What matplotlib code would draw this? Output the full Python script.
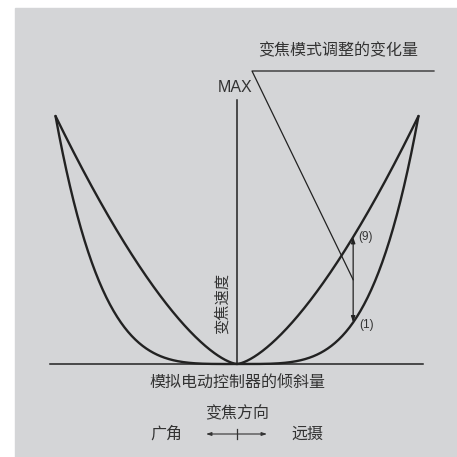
import matplotlib
matplotlib.use("Agg")
import matplotlib.pyplot as plt
import numpy as np
from matplotlib.patches import Rectangle

plt.rcParams['font.family'] = ['Noto Sans CJK SC', 'DejaVu Sans']

# schematic curves: speed = |tilt| ** exponent, tilt in [-1, 1]
curve_labels = ["(9)", "(1)"]
curve_exponents = [1.5, 4.0]
arrow_tilt = 0.64          # where the (1)->(9) arrow sits
axis_label_x = "模拟电动控制器的倾斜量"
axis_label_y = "变焦速度"
max_label = "MAX"
note_label = "变焦模式调整的变化量"
dir_title = "变焦方向"
dir_left = "广角"
dir_right = "远摄"

ink = "#222222"
txt = "#333333"
bg = "#d4d5d7"
latin = ["Liberation Sans", "DejaVu Sans"]

# pixel layout helpers (origin at centre of the baseline)
cx, cy, sx, sy = 237.0, 364.0, 181.5, 248.0
def px(x, y):
    return (x - cx) / sx, (cy - y) / sy

fig = plt.figure(figsize=(4.57, 4.57), dpi=100)
ax = fig.add_axes([0, 0, 1, 1])
ax.set_xlim(px(0, 0)[0], px(457, 0)[0])
ax.set_ylim(px(0, 457)[1], px(0, 0)[1])
ax.axis("off")
ax.add_patch(Rectangle((15 / 457, 0), 442 / 457, 449 / 457,
                       transform=ax.transAxes, color=bg, zorder=0))

t = np.linspace(-1, 1, 401)
for e in curve_exponents:
    ax.plot(t, np.abs(t) ** e, color=ink, lw=1.7, solid_capstyle="round")

# axes
x0, yb = px(50, 364); x1, _ = px(423, 364)
ax.plot([x0, x1], [0, 0], color=ink, lw=1.1)
ax.plot([0, 0], [0, px(0, 100)[1]], color=ink, lw=1.1)
mx, my = px(235, 87)
ax.text(mx, my, max_label, ha="center", va="center", fontsize=11.5,
        color=txt, family=latin)
lx, ly = px(222, 303)
ax.text(lx, ly, axis_label_y, ha="center", va="center", rotation=90,
        fontsize=11, color=txt, fontweight="medium")

# adjustment arrow between curves
y_lo = arrow_tilt ** curve_exponents[1]
y_hi = arrow_tilt ** curve_exponents[0]
ax.annotate("", xy=(arrow_tilt, y_hi), xytext=(arrow_tilt, y_lo),
            arrowprops=dict(arrowstyle="<|-|>,head_length=0.35,head_width=0.12",
                            color=ink, lw=0.9, shrinkA=0, shrinkB=0))
ax.text(arrow_tilt + 0.03, y_hi + 0.0, curve_labels[0], ha="left", va="center",
        fontsize=8.5, color=txt, family=latin)
ax.text(arrow_tilt + 0.035, y_lo - 0.01, curve_labels[1], ha="left", va="center",
        fontsize=8.5, color=txt, family=latin)

# leader line to note
ax_, ay_ = px(252, 71)
bx_, _ = px(434, 71)
lead_y = (y_lo + y_hi) / 2
ax.plot([arrow_tilt, ax_, bx_], [lead_y, ay_, ay_], color=ink, lw=0.9)
nx, ny = px(338, 51)
ax.text(nx, ny, note_label, ha="center", va="center", fontsize=11.5,
        color=txt, fontweight="medium")

# bottom labels
bx, by = px(237, 383)
ax.text(bx, by, axis_label_x, ha="center", va="center", fontsize=11.5,
        color=txt, fontweight="medium")
dx, dy = px(237, 414)
ax.text(dx, dy, dir_title, ha="center", va="center", fontsize=11.5,
        color=txt, fontweight="medium")
gx, gy = px(166, 434)
ax.text(gx, gy, dir_left, ha="center", va="center", fontsize=11.5,
        color=txt, fontweight="medium")
rx, ry = px(307, 434)
ax.text(rx, ry, dir_right, ha="center", va="center", fontsize=11.5,
        color=txt, fontweight="medium")
a0, ay2 = px(206, 434); a1, _ = px(267, 434)
ax.annotate("", xy=(a1, ay2), xytext=(a0, ay2),
            arrowprops=dict(arrowstyle="<|-|>,head_length=0.3,head_width=0.1",
                            color=txt, lw=0.8, shrinkA=0, shrinkB=0))
_, t0 = px(0, 429); _, t1 = px(0, 439)
ax.plot([0, 0], [t0, t1], color=txt, lw=0.9)

fig.savefig("out.png", dpi=100)
